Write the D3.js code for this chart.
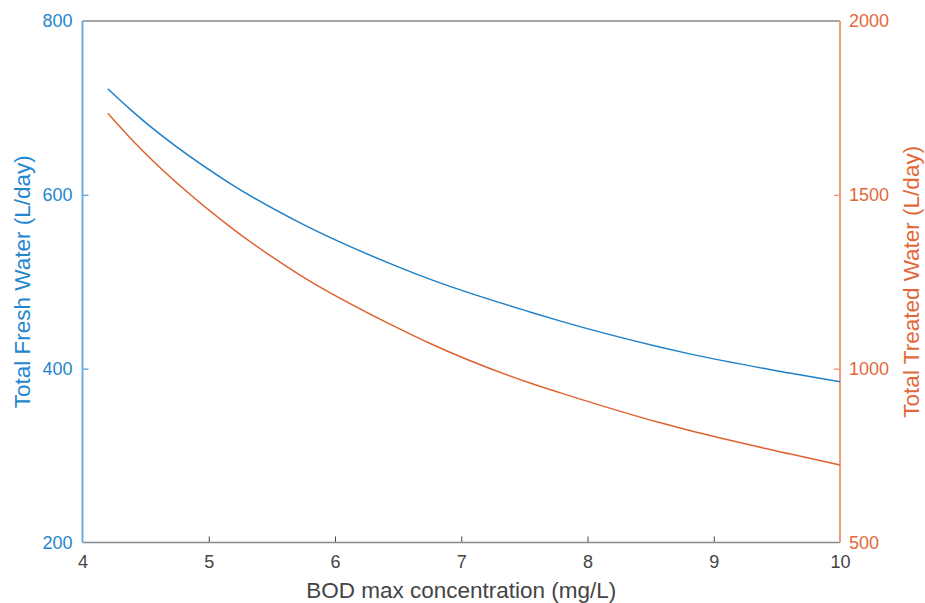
<!DOCTYPE html>
<html>
<head>
<meta charset="utf-8">
<script src="https://cdn.jsdelivr.net/npm/d3@7"></script>
<style>
  html, body { margin: 0; padding: 0; background: #fff; }
  svg { display: block; font-family: "Liberation Sans", Arial, Helvetica, sans-serif; }
</style>
</head>
<body>
<svg id="chart" width="925" height="603"></svg>
<script>
// BOD max concentration (mg/L) sample positions
const bodConc    = [4.2, 4.38, 5.17, 5.72, 6.52, 6.75, 7.55, 7.78, 8.57, 8.81, 9.60, 10.0];
// Total Fresh Water (L/day) — left axis
const freshWater = [722, 698, 613, 568, 516, 503, 465, 455, 425, 417, 395, 385];
// Total Treated Water (L/day) — right axis
const treatedWater = [1735, 1663, 1408, 1270, 1113, 1073, 958, 931, 845, 822, 755, 723];

const xTicks = [4, 5, 6, 7, 8, 9, 10];
const leftTicks = [200, 400, 600, 800];
const rightTicks = [500, 1000, 1500, 2000];

const xLabel = "BOD max concentration (mg/L)";
const leftLabel = "Total Fresh Water (L/day)";
const rightLabel = "Total Treated Water (L/day)";

const blueLine = "#1f80c8", blueText = "#2486cf", blueAxis = "#6aaee0";
const orangeLine = "#de6330", orangeText = "#e2683a", orangeAxis = "#ef9c7c";
const grayAxis = "#8a8a8a", grayText = "#444444";

const m = { left: 82.5, right: 840, top: 21, bottom: 542.5 };

const svg = d3.select("#chart");

const x = d3.scaleLinear().domain([4, 10]).range([m.left, m.right]);
const yL = d3.scaleLinear().domain([200, 800]).range([m.bottom, m.top]);
const yR = d3.scaleLinear().domain([500, 2000]).range([m.bottom, m.top]);

const fontTick = 18, fontLabel = 22.5;
const fmt = d3.format("d");

// Bottom axis (ticks inward)
const xAxis = d3.axisBottom(x).tickValues(xTicks).tickSize(-6).tickPadding(13).tickFormat(fmt);
const gx = svg.append("g").attr("transform", `translate(0,${m.bottom})`).call(xAxis);
gx.select(".domain").remove();
gx.selectAll(".tick line").attr("stroke", grayText).attr("stroke-width", 1)
  .filter(d => d === 4 || d === 10).remove();
gx.selectAll(".tick text").attr("fill", grayText).attr("font-size", fontTick)
  .attr("font-family", "Liberation Sans, Arial, sans-serif");
svg.append("line").attr("x1", m.left).attr("x2", m.right).attr("y1", m.bottom).attr("y2", m.bottom)
  .attr("stroke", grayAxis).attr("stroke-width", 1.5);
// Top border
svg.append("line").attr("x1", m.left).attr("x2", m.right).attr("y1", m.top).attr("y2", m.top)
  .attr("stroke", grayAxis).attr("stroke-width", 1.5);

// Left axis
const yAxisL = d3.axisLeft(yL).tickValues(leftTicks).tickSize(-6).tickPadding(10).tickFormat(fmt);
const gl = svg.append("g").attr("transform", `translate(${m.left},0)`).call(yAxisL);
gl.select(".domain").remove();
gl.selectAll(".tick line").attr("stroke", blueAxis).attr("stroke-width", 1.5)
  .filter(d => d === 200 || d === 800).remove();
gl.selectAll(".tick text").attr("fill", blueText).attr("font-size", fontTick)
  .attr("font-family", "Liberation Sans, Arial, sans-serif");
svg.append("line").attr("x1", m.left).attr("x2", m.left).attr("y1", m.top).attr("y2", m.bottom)
  .attr("stroke", blueAxis).attr("stroke-width", 2);

// Right axis
const yAxisR = d3.axisRight(yR).tickValues(rightTicks).tickSize(-6).tickPadding(9).tickFormat(fmt);
const gr = svg.append("g").attr("transform", `translate(${m.right},0)`).call(yAxisR);
gr.select(".domain").remove();
gr.selectAll(".tick line").attr("stroke", orangeAxis).attr("stroke-width", 1.5)
  .filter(d => d === 500 || d === 2000).remove();
gr.selectAll(".tick text").attr("fill", orangeText).attr("font-size", fontTick)
  .attr("font-family", "Liberation Sans, Arial, sans-serif");
svg.append("line").attr("x1", m.right).attr("x2", m.right).attr("y1", m.top).attr("y2", m.bottom)
  .attr("stroke", orangeAxis).attr("stroke-width", 2);

// Lines
const dataF = bodConc.map((c, i) => [c, freshWater[i]]);
const dataT = bodConc.map((c, i) => [c, treatedWater[i]]);

svg.append("path").datum(dataF)
  .attr("fill", "none").attr("stroke", blueLine).attr("stroke-width", 1.5)
  .attr("d", d3.line().x(d => x(d[0])).y(d => yL(d[1])).curve(d3.curveMonotoneX));
svg.append("path").datum(dataT)
  .attr("fill", "none").attr("stroke", orangeLine).attr("stroke-width", 1.5)
  .attr("d", d3.line().x(d => x(d[0])).y(d => yR(d[1])).curve(d3.curveMonotoneX));

// Axis labels
const cy = (m.top + m.bottom) / 2;
svg.append("text").attr("x", (m.left + m.right) / 2).attr("y", 598)
  .attr("text-anchor", "middle").attr("fill", grayText).attr("font-size", fontLabel).text(xLabel);
svg.append("text").attr("transform", `translate(30,${cy}) rotate(-90)`)
  .attr("text-anchor", "middle").attr("fill", blueText).attr("font-size", fontLabel).text(leftLabel);
svg.append("text").attr("transform", `translate(919,${cy}) rotate(-90)`)
  .attr("text-anchor", "middle").attr("fill", orangeText).attr("font-size", fontLabel).text(rightLabel);
</script>
</body>
</html>
